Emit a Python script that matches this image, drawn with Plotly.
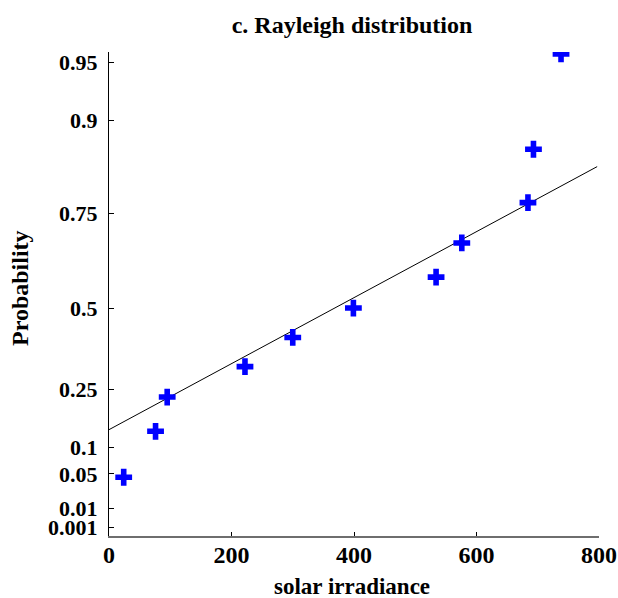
import numpy as np
import plotly.graph_objects as go

# --- data ---
irradiance = [24, 76, 95, 222, 300, 399, 534, 576, 684, 693, 738]
probability = [0.045, 0.136, 0.227, 0.318, 0.409, 0.500, 0.591, 0.682, 0.773, 0.864, 0.955]

fit_x = [0, 797]
fit_prob = [0.140, 0.838]

prob_ticks = [0.001, 0.01, 0.05, 0.1, 0.25, 0.5, 0.75, 0.9, 0.95]
prob_tick_labels = ["0.001", "0.01", "0.05", "0.1", "0.25", "0.5", "0.75", "0.9", "0.95"]
x_ticks = [0, 200, 400, 600, 800]


def rayleigh_scale(p):
    """Rayleigh probability-paper scale: sqrt(-2 ln(1-p))."""
    p = np.asarray(p, dtype=float)
    return np.sqrt(-2.0 * np.log(1.0 - p))


FONT = "Liberation Serif"
W, H = 618, 598
L, T = 109, 52
R, B = W - 599, H - 536
PW, PH = W - L - R, H - T - B


def px_x(px):
    return (px - L) / PW


def px_y(py):
    return (H - B - py) / PH


fig = go.Figure()
fig.add_trace(go.Scatter(
    x=fit_x, y=rayleigh_scale(fit_prob), mode="lines",
    line=dict(color="black", width=1), showlegend=False, hoverinfo="skip"))
fig.add_trace(go.Scatter(
    x=irradiance, y=rayleigh_scale(probability), mode="markers",
    marker=dict(symbol="cross", size=14, color="#0000FF",
                line=dict(width=0)),
    showlegend=False))

fig.update_layout(
    width=W, height=H,
    margin=dict(l=L, r=R, t=T, b=B, autoexpand=False),
    paper_bgcolor="white", plot_bgcolor="white",
    title=dict(text="c. Rayleigh distribution", x=352 / W, xanchor="center",
               y=1 - 25 / H, yanchor="middle",
               font=dict(family=FONT, size=24, color="black", weight="bold")),
    font=dict(family=FONT, color="black"),
    annotations=[
        dict(text="solar irradiance", xref="paper", yref="paper",
             x=px_x(352), y=px_y(586),
             xanchor="center", yanchor="middle", showarrow=False,
             font=dict(family=FONT, size=23, color="black", weight="bold")),
        dict(text="Probability", xref="paper", yref="paper", textangle=-90,
             x=px_x(20), y=px_y(288),
             xanchor="center", yanchor="middle", showarrow=False,
             font=dict(family=FONT, size=24, color="black", weight="bold")),
    ],
)

fig.update_xaxes(
    range=[0, 800], tickvals=x_ticks, ticktext=[str(v) for v in x_ticks],
    automargin=False,
    showgrid=False, zeroline=False, showline=True, linecolor="#6e6e6e", linewidth=2,
    ticks="inside", ticklen=4, tickcolor="black", tickwidth=1,
    ticklabelstandoff=-4,
    tickfont=dict(family=FONT, size=24, color="black", weight="bold"),
)
fig.update_yaxes(
    range=[0, 2.5], tickvals=rayleigh_scale(prob_ticks), ticktext=prob_tick_labels,
    automargin=False,
    showgrid=False, zeroline=False, showline=True, linecolor="black", linewidth=1,
    ticks="inside", ticklen=5, tickcolor="black", tickwidth=1,
    ticklabelstandoff=6,
    tickfont=dict(family=FONT, size=22, color="black", weight="bold"),
)

fig.write_html(
    "out.html",
    config={"displayModeBar": False},
    post_script="document.body.style.margin='0';document.body.style.overflow='hidden';",
)
